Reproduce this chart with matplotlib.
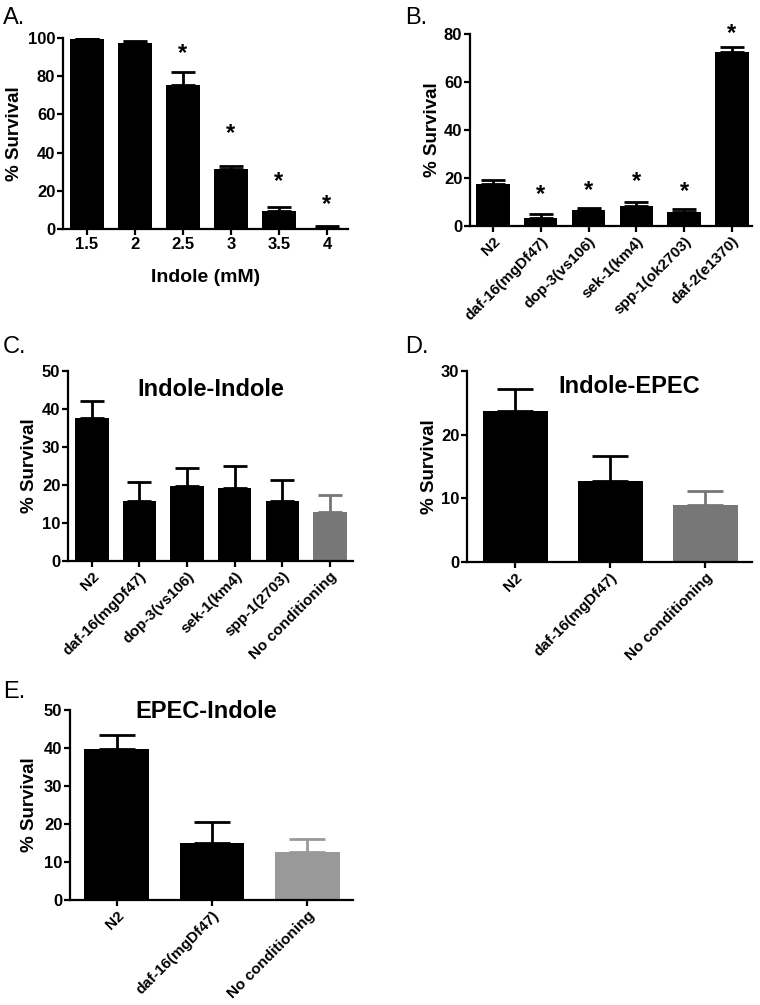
import matplotlib
matplotlib.use("Agg")
import matplotlib.pyplot as plt
import numpy as np

plt.rcParams['font.family'] = ['Liberation Sans', 'DejaVu Sans']
plt.rcParams['font.weight'] = 'bold'

# Panel A: survival vs indole concentration
a_labels = ["1.5", "2", "2.5", "3", "3.5", "4"]
a_vals = [99.6, 97.6, 75.5, 31.3, 9.6, 0.7]
a_err = [0.5, 0.6, 6.5, 1.9, 2.1, 0.9]
a_stars = [None, None, 92, 50, 25, 13]

# Panel B: mutants on indole
b_labels = ["N2", "daf-16(mgDf47)", "dop-3(vs106)", "sek-1(km4)", "spp-1(ok2703)", "daf-2(e1370)"]
b_vals = [17.3, 3.5, 6.5, 8.2, 5.9, 72.3]
b_err = [1.8, 1.4, 1.0, 1.8, 1.3, 2.4]
b_stars = [None, 13.1, 14.6, 18.7, 14.2, 80]

# Panel C: Indole-Indole
c_labels = ["N2", "daf-16(mgDf47)", "dop-3(vs106)", "sek-1(km4)", "spp-1(2703)", "No conditioning"]
c_vals = [37.5, 15.7, 19.7, 19.2, 15.9, 12.8]
c_err = [4.7, 5.0, 4.9, 5.7, 5.3, 4.7]

# Panel D: Indole-EPEC
d_labels = ["N2", "daf-16(mgDf47)", "No conditioning"]
d_vals = [23.7, 12.8, 9.0]
d_err = [3.4, 3.8, 2.2]

# Panel E: EPEC-Indole
e_labels = ["N2", "daf-16(mgDf47)", "No conditioning"]
e_vals = [39.7, 14.9, 12.7]
e_err = [3.6, 5.5, 3.3]

W, H = 760, 1005
fig = plt.figure(figsize=(W / 100, H / 100), dpi=100)


def make_ax(left, top, right, bottom, ylab_right):
    ax = fig.add_axes([left / W, 1 - bottom / H, (right - left) / W, (bottom - top) / H])
    ax.set_ylabel("% Survival", fontsize=13.5, fontweight='bold')
    ax.yaxis.set_label_coords((ylab_right - left) / (right - left), 0.5)
    return ax


def bar_panel(ax, labels, vals, err, colors, ymax, ystep, xlim, rot=True, stars=None, title=None):
    x = np.arange(len(vals))
    ax.bar(x, vals, width=0.7 if len(vals) > 3 else 0.68, color=colors, edgecolor='none', zorder=2)
    for xi, v, e, c in zip(x, vals, err, colors):
        ax.errorbar(xi, v, yerr=[[0], [e]], fmt='none', ecolor=c, elinewidth=2,
                    capsize=8.5 if len(vals) > 3 else 13, capthick=2, zorder=1)
    if stars:
        for xi, s in zip(x, stars):
            if s is not None:
                ax.text(xi, s, "*", ha='center', va='center', fontsize=17, fontweight='bold')
    ax.set_ylim(0, ymax)
    ax.set_xlim(*xlim)
    ax.set_yticks(np.arange(0, ymax + 1, ystep))
    ax.set_xticks(x)
    if rot:
        ax.set_xticklabels(labels, rotation=45, ha='right', rotation_mode='anchor', fontsize=11)
    else:
        ax.set_xticklabels(labels)
    for s in ['top', 'right']:
        ax.spines[s].set_visible(False)
    for s in ['left', 'bottom']:
        ax.spines[s].set_linewidth(1.6)
    ax.tick_params(width=1.6, length=4, direction='out', pad=2)
    ax.tick_params(axis='y', labelsize=12, pad=1.5)
    if not rot:
        ax.tick_params(axis='x', labelsize=12)
    if title:
        ax.text(0.5, 0.96, title, transform=ax.transAxes, ha='center', va='center',
                fontsize=17, fontweight='bold')


# A
ax = make_ax(63, 38, 348, 229, 23)
bar_panel(ax, a_labels, a_vals, a_err, ['black'] * 6, 100, 20, (-0.5, 5.44), rot=False, stars=a_stars)
ax.set_xlabel("Indole (mM)", fontsize=14, fontweight='bold', labelpad=12)

# B
ax = make_ax(470, 34, 752, 226, 441)
bar_panel(ax, b_labels, b_vals, b_err, ['black'] * 6, 80, 20, (-0.48, 5.42), stars=b_stars)

# C
ax = make_ax(68, 371, 353, 561, 38)
bar_panel(ax, c_labels, c_vals, c_err, ['black'] * 5 + ['#777777'], 50, 10, (-0.5, 5.48),
          title="Indole-Indole")
ax.texts[-1].set_position((0.5, 0.9))

# D
ax = make_ax(467, 371, 752, 562, 438)
bar_panel(ax, d_labels, d_vals, d_err, ['black', 'black', '#777777'], 30, 10, (-0.51, 2.49),
          title="Indole-EPEC")
ax.texts[-1].set_position((0.57, 0.92))

# E
ax = make_ax(70, 710, 353, 900, 38)
bar_panel(ax, e_labels, e_vals, e_err, ['black', 'black', '#999999'], 50, 10, (-0.49, 2.48),
          title="EPEC-Indole")
ax.texts[-1].set_position((0.48, 0.99))

# panel letters
for lbl, px, py in [("A.", 3, 18), ("B.", 405, 18), ("C.", 3, 347), ("D.", 405, 347), ("E.", 3, 692)]:
    fig.text(px / W, 1 - py / H, lbl, fontsize=17, fontweight='normal', va='center', ha='left')

fig.savefig("out.png", dpi=100)
